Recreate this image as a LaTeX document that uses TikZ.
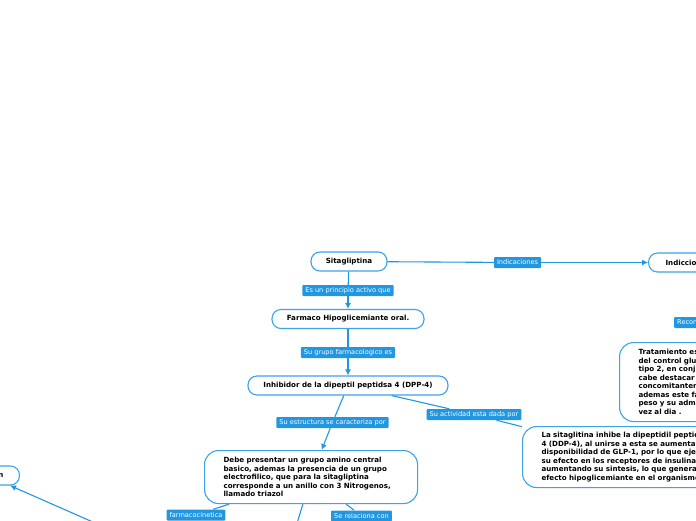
\documentclass[tikz,border=0pt]{standalone}
\usepackage{fontspec}
\setmainfont{DejaVu Sans}
\usetikzlibrary{arrows.meta}

\definecolor{mmblue}{RGB}{33,150,225}
\definecolor{mmline}{RGB}{62,162,232}

\tikzstyle{topic} = [style={draw=mmline, line width=1.1pt, rounded corners=9pt, fill=white, font=\fontsize{7.1}{8.5}\selectfont\bfseries, inner ysep=0pt, minimum height=19pt}]
\tikzstyle{bigtopic} = [style={topic, rounded corners=14pt, align=left, anchor=north west, inner xsep=19pt}]
\tikzstyle{lbl} = [style={fill=mmblue, text=white, font=\fontsize{6.6}{7}\selectfont, rounded corners=1pt, inner xsep=3pt, inner ysep=0pt, minimum height=11pt}]
\tikzstyle{link} = [style={draw=mmblue, line width=1.1pt}]
\tikzstyle{arr} = [style={link, -{Latex[length=6pt,width=6pt]}}]
\newcommand*{\colx}{348}

\begin{document}
\begin{tikzpicture}[x=1pt,y=-1pt]
\useasboundingbox (0,0) rectangle (696,520);
\clip (0,0) rectangle (696,520);

%% main column
\node[topic, minimum width=76pt] (sita) at (349,261.5) {Sitagliptina};
\node[topic, minimum width=152pt] (farm) at (\colx,319) {Farmaco Hipoglicemiante oral.};
\node[topic, minimum width=200pt] (inhib) at (\colx,385.5) {Inhibidor de la dipeptil peptidsa 4 (DPP-4)};

%% right side
\node[topic, anchor=west, text width=80pt, inner xsep=17pt] (indic) at (648,262.5) {Indiccio};
\node[bigtopic, minimum height=79pt, text width=100pt] (trat) at (619,342)
  {Tratamiento es\\del control glu\\tipo 2, en conju\\cabe destacar q\\concomitanten\\ademas este fa\\peso y su admi\\vez al dia .};
\node[bigtopic, minimum height=61pt, text width=200pt] (accion) at (522,426)
  {La sitaglitina inhibe la dipeptidil peptida\\4 (DDP-4), al unirse a esta se aumenta\\disponibilidad de GLP-1, por lo que ejer\\su efecto en los receptores de insulina\\aumentando su sintesis, lo que genera\\efecto hipoglicemiante en el organismo};

%% lower part
\node[bigtopic, minimum width=213pt, minimum height=53pt, text width=175pt] (debe) at (204,450)
  {Debe presentar un grupo amino central\\basico, ademas la presencia de un grupo\\electrofilico, que para la sitagliptina\\corresponde a un anillo con 3 Nitrogenos,\\llamado triazol};
\node[topic, anchor=east, text width=60pt, align=right, inner xsep=16pt] (nnode) at (20,475.5) {n};

%% labels
\node[lbl] (l1) at (517.5,262.5) {Indicaciones};
\node[lbl] (l2) at (\colx,290.5) {Es un principio activo que};
\node[lbl] (l3) at (\colx,352.5) {Su grupo farmacologico es};
\node[lbl] (l4) at (332.5,422.5) {Su estructura se caracteriza por};
\node[lbl] (l5) at (474,414.5) {Su actividad esta dada por};
\node[lbl, anchor=west, text width=30pt, align=left] (l6) at (674,322.5) {Recon};
\node[lbl] (l7) at (196,515) {farmacocinetica};
\node[lbl] (l8) at (361.5,516) {Se relaciona con};

\coordinate (below) at (292,540);
\coordinate (offl) at (111,530);

%% connectors
\draw[link] (sita) -- (l1);
\draw[arr] (l1) -- (indic);
\draw[link] (sita) -- (l2);
\draw[arr] (l2) -- (farm);
\draw[link] (farm) -- (l3);
\draw[arr] (l3) -- (inhib);
\draw[link] (inhib) -- (l4);
\draw[arr] (l4) -- (debe);
\draw[link] (inhib) -- (l5);
\draw[link] (l5) -- (accion);
\draw[link] (debe) -- (l7);
\draw[link] (debe) -- (l8);
\draw[link] (debe) -- (below);
\draw[arr] (offl) -- ([xshift=-10pt]nnode.south east);

\end{tikzpicture}
\end{document}
